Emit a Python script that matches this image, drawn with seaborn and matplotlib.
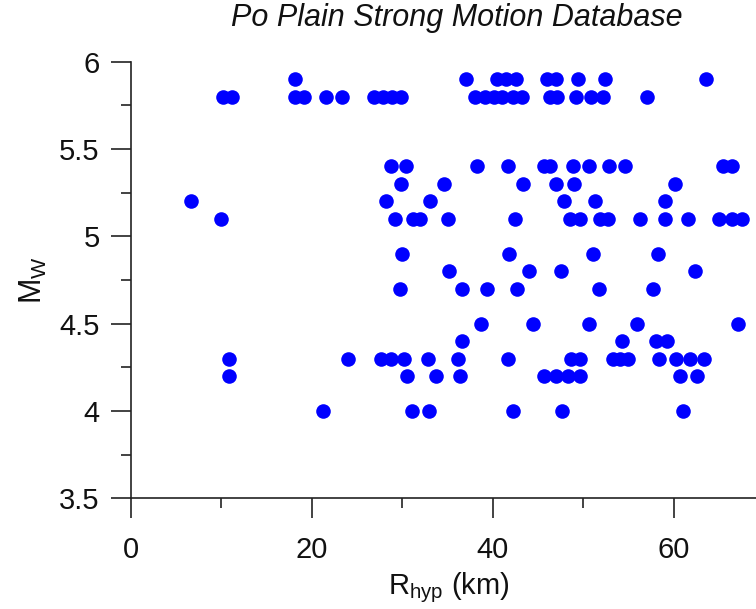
import matplotlib
matplotlib.use("Agg")
import matplotlib.pyplot as plt
import seaborn as sns
import pandas as pd

# hypocentral distance (km) of each record, grouped by moment magnitude
mw_levels = [5.9, 5.8, 5.4, 5.3, 5.2, 5.1, 4.9, 4.8, 4.7, 4.5, 4.4, 4.3, 4.2, 4.0]

r_59 = [18.2, 37.1, 40.5, 41.5, 42.6, 46.0, 47.0, 49.4, 52.4, 63.6]
r_58 = [10.2, 11.2, 18.2, 19.1, 21.6, 23.3, 26.9, 27.9, 28.9, 29.9, 38.0, 39.1,
        40.1, 41.0, 42.2, 43.2, 46.3, 47.1, 49.2, 50.9, 52.2, 57.1]
r_54 = [28.8, 30.4, 38.3, 41.7, 45.7, 46.3, 48.9, 50.6, 52.9, 54.6, 65.5, 66.5]
r_53 = [29.9, 34.6, 43.3, 47.0, 49.0, 60.1]
r_52 = [6.7, 28.2, 33.1, 47.9, 51.3, 59.0]
r_51 = [10.0, 29.2, 31.2, 32.0, 35.1, 42.5, 48.6, 49.7, 51.9, 52.8, 56.3, 59.0,
        61.6, 65.0, 66.5, 67.5]
r_49 = [30.0, 41.8, 51.1, 58.3]
r_48 = [35.2, 44.0, 47.5, 62.4]
r_47 = [29.8, 36.6, 39.4, 42.7, 51.7, 57.7]
r_45 = [38.7, 44.5, 50.6, 56.0, 67.1]
r_44 = [36.6, 54.3, 58.1, 59.3]
r_43 = [10.9, 24.0, 27.7, 28.8, 30.2, 32.8, 36.2, 41.7, 48.7, 49.6, 53.3, 54.1,
        55.0, 58.4, 60.3, 61.8, 63.4]
r_42 = [10.9, 30.5, 33.7, 36.4, 45.7, 47.0, 48.3, 49.6, 60.7, 62.6]
r_40 = [21.3, 31.1, 33.0, 42.2, 47.7, 61.0]

r_groups = [r_59, r_58, r_54, r_53, r_52, r_51, r_49, r_48, r_47, r_45, r_44,
            r_43, r_42, r_40]

x_ticks = [0, 20, 40, 60]
y_ticks = [3.5, 4, 4.5, 5, 5.5, 6]
y_tick_labels = ["3.5", "4", "4.5", "5", "5.5", "6"]

rows = [(r, mw) for mw, grp in zip(mw_levels, r_groups) for r in grp]
df = pd.DataFrame(rows, columns=["R_hyp", "Mw"])

sns.set_theme(style="ticks")
plt.rcParams["font.family"] = ["Liberation Sans", "DejaVu Sans"]

W, H = 756, 609
x0, x1, y_top, y_bot = 130.7, 756, 61.7, 498.3
fig = plt.figure(figsize=(W / 100, H / 100), dpi=100)
ax = fig.add_axes([x0 / W, (H - y_bot) / H, (x1 - x0) / W, (y_bot - y_top) / H])

sns.scatterplot(data=df, x="R_hyp", y="Mw", color="#0000FF", s=110,
                linewidth=0, ax=ax)

ax.set_xlim(0, 69.1)
ax.set_ylim(3.5, 6)
ax.set_xticks(x_ticks)
ax.set_xticks([10, 30, 50], minor=True)
ax.set_yticks(y_ticks, labels=y_tick_labels)
ax.set_yticks([3.75, 4.25, 4.75, 5.25, 5.75], minor=True)

ax.tick_params(which="major", length=14.4, width=1.2, color="#222222",
               labelsize=21, pad=8, labelcolor="#111111")
ax.tick_params(which="minor", length=7.2, width=1.2, color="#222222")
ax.tick_params(axis="x", which="major", pad=13)
for side in ["top", "right"]:
    ax.spines[side].set_visible(False)
for side in ["left", "bottom"]:
    ax.spines[side].set_linewidth(1.2)
    ax.spines[side].set_color("#222222")

ax.set_xlabel(r"$\mathregular{R_{hyp}}$ (km)", fontsize=21, color="#111111")
ax.xaxis.set_label_coords(0.509, -0.165)
ax.set_ylabel(r"$\mathregular{M_W}$", fontsize=22, color="#111111")
ax.yaxis.set_label_coords(-0.131, 0.5)

fig.text(457 / W, 1 - 26 / H, "Po Plain Strong Motion Database",
         fontsize=22, style="italic", ha="center", va="baseline",
         color="#111111")

fig.savefig("out.png", dpi=100)
